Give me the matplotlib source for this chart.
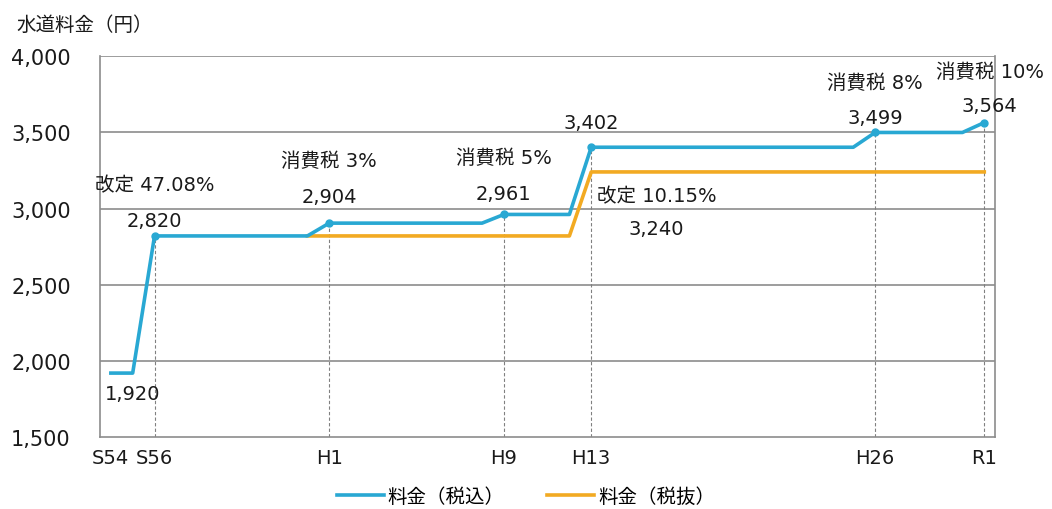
import matplotlib
matplotlib.use("Agg")
from matplotlib import pyplot as plt

plt.rcParams["font.family"] = ["DejaVu Sans", "Noto Sans CJK JP"]

# tick positions (western year) and their era labels
TICK_YEARS = [1979, 1981, 1989, 1997, 2001, 2014, 2019]
TICK_LABELS = ["S54", "S56", "H1", "H9", "H13", "H26", "R1"]

# price incl. tax (step-like series)
INC_YEARS = [1979, 1980, 1981, 1988, 1989, 1996, 1997, 2000, 2001, 2013, 2014, 2018, 2019]
INC_VALUES = [1920, 1920, 2820, 2820, 2904, 2904, 2961, 2961, 3402, 3402, 3499, 3499, 3564]

# price excl. tax
EXC_YEARS = [1988, 2000, 2001, 2019]
EXC_VALUES = [2820, 2820, 3240, 3240]

# highlighted points with dotted guides
MARK_YEARS = [1981, 1989, 1997, 2001, 2014, 2019]
MARK_VALUES = [2820, 2904, 2961, 3402, 3499, 3564]

# annotation texts: (text, anchor year, anchor value, dx pt, dy pt)
NOTES = [
    ("改定 47.08%", 1981, 2820, 0, 37),
    ("2,820", 1981, 2820, 0, 11),
    ("1,920", 1980, 1920, 0, -15),
    ("消費税 3%", 1989, 2904, 0, 45),
    ("2,904", 1989, 2904, 0, 19),
    ("消費税 5%", 1997, 2961, 0, 41),
    ("2,961", 1997, 2961, 0, 15),
    ("3,402", 2001, 3402, 0, 18),
    ("改定 10.15%", 2001, 3240, 47, -17),
    ("3,240", 2001, 3240, 47, -41),
    ("消費税 8%", 2014, 3499, 0, 36),
    ("3,499", 2014, 3499, 0, 11),
    ("消費税 10%", 2019, 3564, 4, 37),
    ("3,564", 2019, 3564, 4, 12),
]

BLUE = "#29A8D3"
ORANGE = "#F2AA22"
GRID = "#8C8C8C"

fig = plt.figure(figsize=(10.52, 5.10), dpi=100)
ax = fig.add_axes([0.095, 0.141, 0.851, 0.747])

for y in [2000, 2500, 3000, 3500, 4000]:
    ax.axhline(y, color=GRID, lw=1.2, zorder=1)
for yr, v in zip(MARK_YEARS, MARK_VALUES):
    ax.vlines(yr, 1500, v, colors="#808080", lw=0.8, linestyles=(0, (3, 2)), zorder=1)

ax.plot(EXC_YEARS, EXC_VALUES, color=ORANGE, lw=2.6, label="料金（税抜）", zorder=3)
ax.plot(INC_YEARS, INC_VALUES, color=BLUE, lw=2.6, label="料金（税込）", zorder=4)
ax.plot(MARK_YEARS, MARK_VALUES, "o", color=BLUE, ms=5, zorder=5)

for txt, yr, v, dx, dy in NOTES:
    ax.annotate(txt, (yr, v), xytext=(dx, dy), textcoords="offset points",
                ha="center", va="center", fontsize=14, color="#1a1a1a", zorder=6)

ax.set_xlim(1978.5, 2019.5)
ax.set_ylim(1500, 4000)
ax.set_yticks([1500, 2000, 2500, 3000, 3500, 4000])
ax.set_yticklabels([f"{v:,}" for v in [1500, 2000, 2500, 3000, 3500, 4000]])
ax.set_xticks(TICK_YEARS)
ax.set_xticklabels(TICK_LABELS)
ax.tick_params(axis="y", length=0, pad=21, labelsize=15, labelcolor="#1a1a1a")
ax.tick_params(axis="x", length=0, pad=8, labelsize=14, labelcolor="#1a1a1a")
for s in ["left", "right", "bottom"]:
    ax.spines[s].set_color(GRID)
    ax.spines[s].set_linewidth(1.2)
ax.spines["top"].set_visible(False)

fig.text(0.016, 0.951, "水道料金（円）", fontsize=14, va="center", ha="left", color="#1a1a1a")

handles, labels = ax.get_legend_handles_labels()
fig.legend(handles[::-1], labels[::-1], loc="center", bbox_to_anchor=(0.5, 0.025), ncol=2,
           frameon=False, fontsize=14, handlelength=2.4, columnspacing=2.2, handletextpad=0.2)

fig.savefig("out.png", dpi=100)
